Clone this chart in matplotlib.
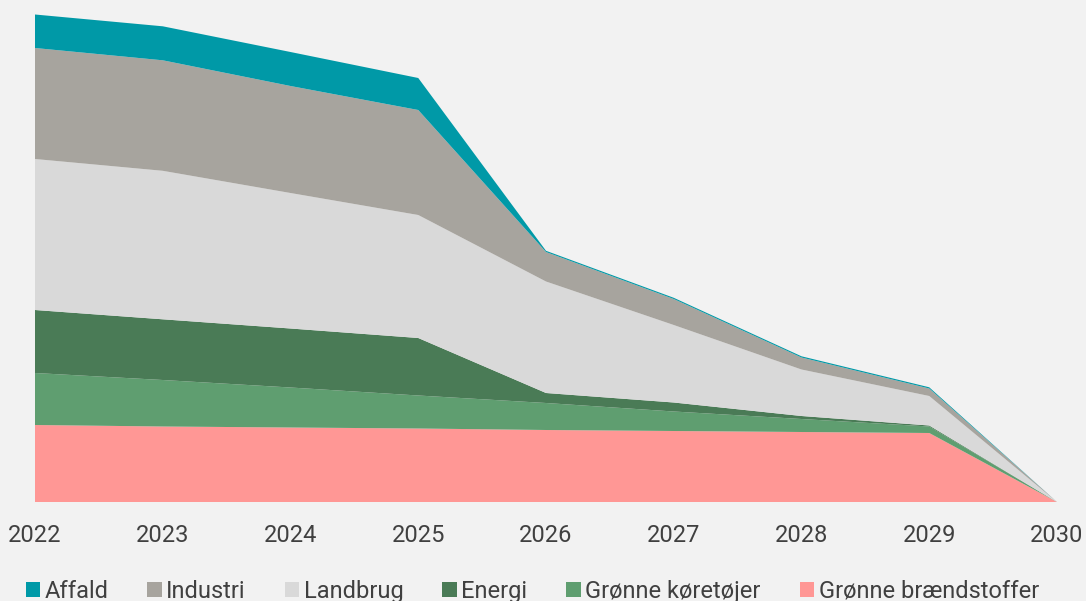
import numpy as np
import matplotlib.pyplot as plt

years = [2022, 2023, 2024, 2025, 2026, 2027, 2028, 2029, 2030]

# stacked from bottom to top
braendstoffer = [77, 75.5, 74.5, 73.5, 72, 71, 70, 69, 0]
koeretoejer = [52, 46.5, 40, 33, 27, 19.5, 13, 6.5, 0]
energi = [63, 60.7, 59, 57.5, 10, 9, 3, 1, 0]
landbrug = [151, 148.5, 135.5, 123, 111.5, 77.5, 46.5, 29.5, 0]
industri = [111, 110.5, 107, 105, 29.5, 26, 12, 7.5, 0]
affald = [33.5, 34, 34, 32, 1.2, 1.2, 1.2, 1.2, 0]

names = ['Grønne brændstoffer', 'Grønne køretøjer', 'Energi',
         'Landbrug', 'Industri', 'Affald']
colors = ['#ff9795', '#5f9e70', '#4a7b56', '#d9d9d9', '#a7a49e', '#0099a7']

plt.rcParams['font.family'] = ['Roboto', 'DejaVu Sans']
bg = '#f2f2f2'
txt = '#404040'

fig = plt.figure(figsize=(10.86, 6.01), dpi=100, facecolor=bg)
ax = fig.add_axes([35/1086, (601-502)/601, 1022/1086, 502/601])
ax.set_facecolor(bg)

polys = ax.stackplot(years, braendstoffer, koeretoejer, energi, landbrug,
                     industri, affald, colors=colors, labels=names,
                     linewidth=0)

ax.set_xlim(2022, 2030)
ax.set_ylim(0, 502)
ax.set_xticks(years)
ax.set_xticklabels([str(y) for y in years])
ax.set_yticks([])
ax.tick_params(axis='x', length=0, pad=16, labelsize=17, labelcolor=txt)
for s in ax.spines.values():
    s.set_visible(False)

handles, labels = ax.get_legend_handles_labels()
leg = fig.legend(handles[::-1], labels[::-1], loc='lower center', ncol=6,
                 bbox_to_anchor=(0.49, -0.038), frameon=False, fontsize=17,
                 handlelength=0.6, handleheight=0.6, handletextpad=0.2,
                 columnspacing=1.65, labelcolor=txt)

fig.savefig('out.png', dpi=100, facecolor=bg)
